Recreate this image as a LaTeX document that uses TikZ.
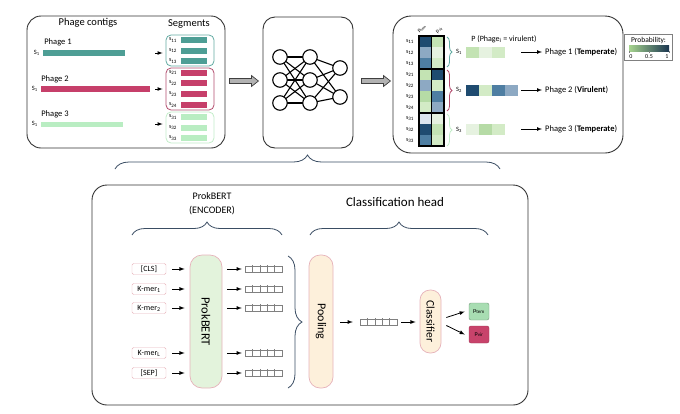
\documentclass[tikz,border=0pt]{standalone}
\usepackage{fontspec}
\setmainfont{Carlito}
\usetikzlibrary{decorations.pathreplacing,calc}
\definecolor{tealc}{HTML}{4E9E95}
\definecolor{rosec}{HTML}{C63F6A}
\definecolor{lgreenc}{HTML}{B9EDC2}
\definecolor{tealb}{HTML}{62ABA2}
\definecolor{roseb}{HTML}{B34D6E}
\definecolor{greenb}{HTML}{C2ECC8}
\definecolor{pinkb}{HTML}{E6B2BA}
\definecolor{pbfill}{HTML}{E3F3DC}
\definecolor{poolfill}{HTML}{FDF0DB}
\definecolor{ptemc}{HTML}{A8DDB2}
\definecolor{pvirc}{HTML}{C8436B}
\definecolor{bracec}{HTML}{3A4D63}
\definecolor{dblue}{HTML}{1F4B70}
\definecolor{mblue}{HTML}{4E7EA2}
\definecolor{sblue}{HTML}{8DA9C3}
\definecolor{pgray}{HTML}{DCE5EE}
\definecolor{lga}{HTML}{C3E3B3}
\definecolor{lgb}{HTML}{D3EBC6}
\definecolor{lgc}{HTML}{E6F2E0}
\definecolor{lgd}{HTML}{B6DBA6}
\definecolor{legg}{HTML}{A6D48E}
\definecolor{legb}{HTML}{1A3550}
\begin{document}
\begin{tikzpicture}[x=1pt,y=-1pt,
  panel/.style={draw=black!80, line width=0.9pt, rounded corners=14pt, inner sep=0pt},
  txt/.style={inner sep=0pt, font=\fontsize{8.5}{10}\selectfont},
  stxt/.style={inner sep=0pt, font=\fontsize{6.5}{7}\selectfont},
  seg/.style={inner sep=0pt, minimum width=26pt, minimum height=6pt},
  grp/.style={rounded corners=5pt, line width=0.8pt, inner sep=0pt},
  neuron/.style={circle, draw=black, line width=1.1pt, minimum size=14.5pt, inner sep=0pt, fill=white},
  fatarrow/.style={draw=black!75, fill=gray!60, line width=0.7pt, line join=miter},
  arr/.style={-latex, line width=0.8pt},
  brc/.style={decorate, decoration={brace, amplitude=#1}, draw=bracec, line width=0.8pt},
  inbox/.style={draw=pinkb, rounded corners=1.5pt, minimum width=34pt, minimum height=11pt, inner sep=0pt, font=\fontsize{8}{9}\selectfont},
  tall/.style={draw=pinkb, line width=0.7pt, inner sep=0pt},
  vec/.style={draw=gray, minimum width=37pt, minimum height=6.5pt, inner sep=0pt,
    path picture={\foreach \k in {1,...,4} \draw[gray] ($(path picture bounding box.south west)!\k/5!(path picture bounding box.south east)$) -- ++(0,-10);}},
  sq/.style={inner sep=0pt, minimum width=12.2pt, minimum height=11pt},
  big/.style={inner sep=0pt, rotate=-90, font=\fontsize{12}{13}\selectfont}
]
\useasboundingbox (0,0) rectangle (680,413);

% ---------------- Panel 1 ----------------
\node[panel, minimum width=198pt, minimum height=132pt] (p1) at (126,82) {};
\node[txt, font=\fontsize{10.5}{12}\selectfont] (t1) at (88,23) {Phage contigs};
\node[txt, font=\fontsize{10.5}{12}\selectfont] (t2) at (189,24) {Segments};

\node[txt] (ph1) at (58,42) {Phage 1};
\node[txt] (ph2) at (55,79) {Phage 2};
\node[txt] (ph3) at (55,114) {Phage 3};
\node[fill=tealc, inner sep=0pt, minimum width=82pt, minimum height=6pt] (c1) at (84,53) {};
\node[fill=rosec, inner sep=0pt, minimum width=109pt, minimum height=6pt] (c2) at (95.5,89) {};
\node[fill=lgreenc, inner sep=0pt, minimum width=82pt, minimum height=5pt] (c3) at (82,124) {};
\node[stxt, anchor=east, xshift=-3pt] (S1) at (c1.west) {S\textsubscript{1}};
\node[stxt, anchor=east, xshift=-3pt] (S2) at (c2.west) {S\textsubscript{1}};
\node[stxt, anchor=east, xshift=-3pt] (S3) at (c3.west) {S\textsubscript{1}};

\node[grp, draw=tealb, minimum width=48pt, minimum height=31pt] (g1) at (190,50.5) {};
\node[grp, draw=roseb, minimum width=48pt, minimum height=42pt] (g2) at (190,89) {};
\node[grp, draw=greenb, minimum width=48pt, minimum height=31pt] (g3) at (190,127.5) {};

\foreach \y/\n in {40/11, 50.5/12, 61/13} {
  \node[seg, fill=tealc] (b\n) at (194,\y) {};
  \node[stxt, font=\fontsize{6}{6}\selectfont] (l\n) at (173,\y) {s\textsubscript{\n}};
}
\foreach \y/\n in {72.5/21, 83/22, 94/23, 105/24} {
  \node[seg, fill=rosec] (b\n) at (194,\y) {};
  \node[stxt, font=\fontsize{6}{6}\selectfont] (l\n) at (173,\y) {s\textsubscript{\n}};
}
\foreach \y/\n in {117/31, 127.5/32, 138/33} {
  \node[seg, fill=lgreenc] (b\n) at (194,\y) {};
  \node[stxt, font=\fontsize{6}{6}\selectfont] (l\n) at (173,\y) {s\textsubscript{\n}};
}
\coordinate (a1) at (155,53);
\coordinate (a2) at (155,89);
\coordinate (a3) at (155,124);
\draw[-latex, line width=0.7pt] (a1) -- ([xshift=-3pt]a1 -| g1.west);
\draw[-latex, line width=0.7pt] (a2) -- ([xshift=-3pt]a2 -| g2.west);
\draw[-latex, line width=0.7pt] (a3) -- ([xshift=-3pt]a3 -| g3.west);

% ---------------- NN panel ----------------
\node[panel, rounded corners=12pt, minimum width=90pt, minimum height=131pt] (nn) at (308,82.5) {};
\foreach \i/\y in {1/57, 2/80, 3/103} {
  \coordinate (na\i) at (280,\y);
  \coordinate (nb\i) at (310,\y);
}
\coordinate (nc1) at (340,68);
\coordinate (nc2) at (340,97);
\foreach \i in {1,2,3} { \foreach \j in {1,2,3} { \draw[line width=1.1pt] (na\i) -- (nb\j); } }
\foreach \i in {1,2,3} { \foreach \j in {1,2} { \draw[line width=1.1pt] (nb\i) -- (nc\j); } }
\foreach \i in {1,2,3} {
  \node[neuron] (A\i) at (na\i) {};
  \node[neuron] (B\i) at (nb\i) {};
}
\node[neuron] (C1) at (nc1) {};
\node[neuron] (C2) at (nc2) {};

% ---------------- Panel 3 ----------------
\node[panel, rounded corners=18pt, minimum width=230pt, minimum height=137pt] (p3) at (508,84.5) {};

% ---------------- Fat arrows ----------------
\coordinate (fa1) at ([xshift=4pt]p1.east |- 0,81);
\coordinate (fa2) at ([xshift=8pt]nn.east |- 0,81);
\draw[fatarrow] (fa1) ++(0,-2.5) -- ++(22,0) -- ++(0,-3) -- ++(7,5.5) -- ++(-7,5.5) -- ++(0,-3) -- ++(-22,0) -- cycle;
\draw[fatarrow] (fa2) ++(0,-2.5) -- ++(22,0) -- ++(0,-3) -- ++(7,5.5) -- ++(-7,5.5) -- ++(0,-3) -- ++(-22,0) -- cycle;

\foreach \i/\ca/\cb/\n in {0/dblue/lga/11, 1/sblue/lgc/12, 2/mblue/lgb/13, 3/lga/dblue/21, 4/sblue/lgb/22, 5/lgd/mblue/23, 6/lgb/sblue/24, 7/pgray/lgc/31, 8/dblue/lga/32, 9/mblue/lgb/33} {
  \fill[\ca] (419,36+11*\i) rectangle (431.5,47+11*\i);
  \fill[\cb] (431.5,36+11*\i) rectangle (444,47+11*\i);
  \node[stxt, font=\fontsize{6}{6}\selectfont] (r\n) at (410,41.5+11*\i) {s\textsubscript{\n}};
}
\draw[line width=0.5pt] (431.5,36) -- (431.5,146);
\draw[line width=1.1pt] (419,36) rectangle (444,69);
\draw[line width=1.1pt] (419,69) rectangle (444,113);
\draw[line width=1.1pt] (419,113) rectangle (444,146);
\node[stxt, rotate=45, font=\fontsize{5.5}{6}\selectfont] (hd1) at (422,29) {p\textsubscript{tem}};
\node[stxt, rotate=45, font=\fontsize{5.5}{6}\selectfont] (hd2) at (439.5,30) {p\textsubscript{vir}};

\draw[brc=5pt, draw=tealb] (447,37) -- (447,67);
\draw[brc=5pt, draw=roseb] (447,70) -- (447,111);
\draw[brc=5pt, draw=greenb] (447,114) -- (447,146);
\node[stxt, anchor=west] (T1) at (456,52) {S\textsubscript{1}};
\node[stxt, anchor=west] (T2) at (456,90) {S\textsubscript{2}};
\node[stxt, anchor=west] (T3) at (456,129.5) {S\textsubscript{3}};

\node[txt, font=\fontsize{8}{9}\selectfont] (pl) at (504,39) {P (Phage\textsubscript{i} = virulent)};
\foreach \k/\c in {0/lga, 1/lgc, 2/lgb} \node[sq, fill=\c] (qa\k) at (472.5+13*\k,52) {};
\foreach \k/\c in {0/dblue, 1/lgb, 2/mblue, 3/sblue} \node[sq, fill=\c] (qb\k) at (472.5+13*\k,90) {};
\foreach \k/\c in {0/lgc, 1/lgd, 2/lgb} \node[sq, fill=\c] (qc\k) at (472.5+13*\k,129) {};

\node[txt, anchor=west] (o1) at (545,52) {Phage 1 (\textbf{Temperate})};
\node[txt, anchor=west] (o2) at (545,90) {Phage 2 (\textbf{Virulent})};
\node[txt, anchor=west] (o3) at (545,129) {Phage 3 (\textbf{Temperate})};
\draw[-latex, line width=0.7pt] ([xshift=-24pt]o1.west) -- ([xshift=-3pt]o1.west);
\draw[-latex, line width=0.7pt] ([xshift=-24pt]o2.west) -- ([xshift=-3pt]o2.west);
\draw[-latex, line width=0.7pt] ([xshift=-24pt]o3.west) -- ([xshift=-3pt]o3.west);

% legend
\node[draw=gray, line width=0.6pt, minimum width=48pt, minimum height=26pt, inner sep=0pt] (leg) at (648.5,47.5) {};
\node[stxt, font=\fontsize{7.5}{8}\selectfont] (legt) at (648.5,40) {Probability:};
\shade[left color=legg, middle color=white, right color=legb] (629,45) rectangle (669,51);
\foreach \x in {629,649,669} \draw[line width=0.4pt, gray] (\x,51) -- (\x,53);
\node[stxt, font=\fontsize{6}{6}\selectfont] (lg0) at (631,56.5) {0};
\node[stxt, font=\fontsize{6}{6}\selectfont] (lg5) at (649,56.5) {0.5};
\node[stxt, font=\fontsize{6}{6}\selectfont] (lg1) at (667,56.5) {1};

% ---------------- big brace ----------------
\draw[brc=14pt] (115,169) -- (500,169);

% ---------------- Panel 4 ----------------
\node[panel, rounded corners=15pt, minimum width=436pt, minimum height=220pt] (p4) at (310,295) {};
\node[txt, align=center, font=\fontsize{10}{14}\selectfont] (enc) at (212,204) {ProkBERT\\(ENCODER)};
\node[txt, font=\fontsize{13}{14}\selectfont] (ch) at (395,202) {Classification head};
\draw[brc=13pt] (132,235) -- (282,235);
\draw[brc=13pt] (310,235) -- (488,235);

\node[inbox] (i1) at (149,269) {[CLS]};
\node[inbox] (i2) at (149,289) {K-mer\textsubscript{1}};
\node[inbox] (i3) at (149,308) {K-mer\textsubscript{2}};
\node[inbox] (i4) at (149,353) {K-mer\textsubscript{L}};
\node[inbox] (i5) at (149,373) {[SEP]};

\node[tall, fill=pbfill, rounded corners=12pt, minimum width=32pt, minimum height=133pt] (pb) at (206,321.5) {};
\node[big, font=\fontsize{12.5}{13}\selectfont] (pbt) at (pb.center) {ProkBERT};

\foreach \k in {1,...,5} {
  \draw[arr] ([xshift=6pt]i\k.east) -- ([xshift=-5pt]i\k.east -| pb.west);
  \node[vec] (v\k) at (263.5,0 |- i\k) {};
  \draw[arr] ([xshift=5pt]pb.east |- i\k) -- ([xshift=-3pt]v\k.west);
}

\draw[brc=14pt] (288,256) -- (288,388);

\node[tall, fill=poolfill, rounded corners=11pt, minimum width=24pt, minimum height=133pt] (pool) at (321,321.5) {};
\node[big] (poolt) at (pool.center) {Pooling};

\node[vec] (v6) at (378.5,322) {};
\draw[arr] ([xshift=7pt]pool.east |- v6) -- ([xshift=-7pt]v6.west);

\node[tall, fill=poolfill, rounded corners=10pt, minimum width=21pt, minimum height=63pt] (cl) at (430.5,321.5) {};
\node[big, font=\fontsize{11.5}{12}\selectfont] (clt) at (cl.center) {Classifier};
\draw[arr] ([xshift=4pt]v6.east) -- ([xshift=-4pt]cl.west |- v6);

\node[draw=ptemc!70!black, fill=ptemc, rounded corners=2pt, minimum width=20pt, minimum height=17pt, inner sep=0pt, font=\fontsize{6}{6}\selectfont] (pt) at (479,311.5) {p\textsubscript{tem}};
\node[draw=pvirc!80!black, fill=pvirc, rounded corners=2pt, minimum width=20pt, minimum height=17pt, inner sep=0pt, font=\fontsize{6}{6}\selectfont] (pv) at (479,334.5) {p\textsubscript{vir}};
\draw[arr] ([shift={(5pt,4pt)}]cl.east) -- ([xshift=-4pt]pt.west);
\draw[arr] ([shift={(5pt,-4pt)}]cl.east) -- ([xshift=-4pt]pv.west);
\end{tikzpicture}
\end{document}
